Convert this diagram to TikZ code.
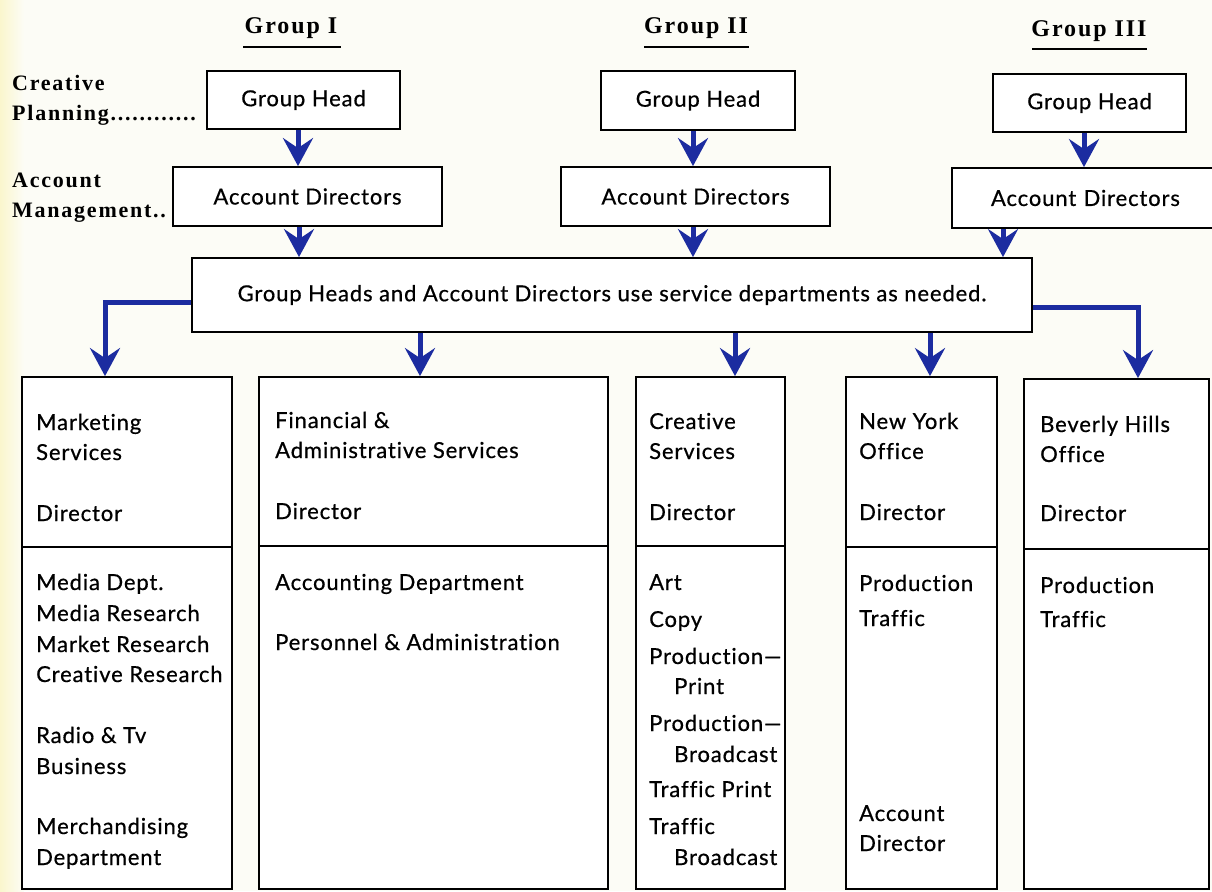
\documentclass[tikz,border=0pt]{standalone}
\usepackage{fontspec}
\setmainfont{Lato}[LetterSpace=4,FakeBold=0.6,Ligatures=CommonOff]
\newfontfamily\serifb{Liberation Serif}[LetterSpace=8]
\usetikzlibrary{arrows.meta}
\definecolor{arrowblue}{RGB}{28,44,160}
\definecolor{bgcol}{RGB}{252,252,246}
\definecolor{edgeyel}{RGB}{250,246,205}
\begin{document}
\begin{tikzpicture}[x=1pt,y=-1pt,
  box/.style={draw=black,line width=1.8pt,fill=white,inner sep=0pt,font=\fontsize{22}{26}\selectfont},
  txt/.style={anchor=base west,inner sep=0pt,font=\fontsize{22}{26}\selectfont},
  lbl/.style={anchor=base west,inner sep=0pt,font=\serifb\bfseries\fontsize{22}{26}\selectfont},
  grp/.style={anchor=base,inner sep=0pt,font=\serifb\bfseries\fontsize{24}{28}\selectfont},
  arr/.style={draw=arrowblue,line width=5pt,-{Stealth[length=28pt,width=30pt,inset=10pt,fill=arrowblue]}},
  elbow/.style={draw=arrowblue,line width=5pt}]
\useasboundingbox (0,0) rectangle (1212,891);
\fill[bgcol] (0,0) rectangle (1212,891);
\shade[left color=edgeyel,right color=bgcol] (0,0) rectangle (24,891);

% group titles
\node[grp] (g1) at (291,34) {Group I};
\node[grp] (g2) at (696,34) {Group II};
\node[grp] (g3) at (1089,37) {Group III};
\draw[line width=2pt] (243,47) -- (341,47);
\draw[line width=2pt] (644,47) -- (749,47);
\draw[line width=2pt] (1032,49) -- (1147,49);

% left labels
\node[lbl] (l1) at (12,90) {Creative};
\node[lbl] (l2) at (12,120) {Planning............};
\node[lbl] (l3) at (12,187) {Account};
\node[lbl] (l4) at (12,217) {Management..};

% top boxes
\node[box,minimum width=193,minimum height=58] (gh1) at (303.5,100) {Group Head};
\node[box,minimum width=194,minimum height=59] (gh2) at (698,100.5) {Group Head};
\node[box,minimum width=193,minimum height=58] (gh3) at (1089.5,103) {Group Head};
\node[box,minimum width=269,minimum height=59] (ad1) at (307.5,196.5) {Account Directors};
\node[box,minimum width=269,minimum height=59] (ad2) at (695.5,196.5) {Account Directors};
\node[box,minimum width=272,minimum height=60,text width=272,align=left] (ad3) at (1088,198) {\hspace{39pt}Account Directors};
\node[box,minimum width=840,minimum height=74] (big) at (612,295) {Group Heads and Account Directors use service departments as needed.};

% bottom boxes
\node[box,minimum width=210,minimum height=512] (b1) at (127,633) {};
\node[box,minimum width=349,minimum height=512] (b2) at (433.5,633) {};
\node[box,minimum width=149,minimum height=512] (b3) at (710.5,633) {};
\node[box,minimum width=151,minimum height=512] (b4) at (921.5,633) {};
\node[box,minimum width=185,minimum height=510] (b5) at (1116.5,634) {};
\draw[line width=1.8pt] (b1.west |- 0,547) -- (b1.east |- 0,547);
\draw[line width=1.8pt] (b2.west |- 0,546) -- (b2.east |- 0,546);
\draw[line width=1.8pt] (b3.west |- 0,546) -- (b3.east |- 0,546);
\draw[line width=1.8pt] (b4.west |- 0,547) -- (b4.east |- 0,547);
\draw[line width=1.8pt] (b5.west |- 0,549) -- (b5.east |- 0,549);

% arrows
\draw[arr] (gh1.south -| 298,0) -- (ad1.north -| 298,0);
\draw[arr] (gh2.south -| 693,0) -- (ad2.north -| 693,0);
\draw[arr] (gh3.south -| 1084,0) -- (ad3.north -| 1084,0);
\draw[arr] (ad1.south -| 299,0) -- (big.north -| 299,0);
\draw[arr] (ad2.south -| 693,0) -- (big.north -| 693,0);
\draw[arr] (ad3.south -| 1003,0) -- (big.north -| 1003,0);
\draw[arr] (big.south -| 420,0) -- (b2.north -| 420,0);
\draw[arr] (big.south -| 735,0) -- (b3.north -| 735,0);
\draw[arr] (big.south -| 930,0) -- (b4.north -| 930,0);
\coordinate (lc) at (105,302);
\coordinate (rc) at (1138,307);
\draw[elbow] (big.west |- lc) -- (lc) -- ++(0,20);
\draw[arr] (lc) -- (b1.north -| lc);
\draw[elbow] (big.east |- rc) -- (rc) -- ++(0,20);
\draw[arr] (rc) -- (b5.north -| rc);

% box 1 text
\node[txt] (t1a) at (36,430) {Marketing};
\node[txt] (t1b) at (36,460) {Services};
\node[txt] (t1c) at (36,521) {Director};
\node[txt] (t1d) at (36,590) {Media Dept.};
\node[txt] (t1e) at (36,621) {Media Research};
\node[txt] (t1f) at (36,652) {Market Research};
\node[txt] (t1g) at (36,682) {Creative Research};
\node[txt] (t1h) at (36,743) {Radio \& Tv};
\node[txt] (t1i) at (36,774) {Business};
\node[txt] (t1j) at (36,834) {Merchandising};
\node[txt] (t1k) at (36,865) {Department};
% box 2 text
\node[txt] (t2a) at (275,428) {Financial \&};
\node[txt] (t2b) at (275,458) {Administrative Services};
\node[txt] (t2c) at (275,519) {Director};
\node[txt] (t2d) at (275,590) {Accounting Department};
\node[txt] (t2e) at (275,650) {Personnel \& Administration};
% box 3 text
\node[txt] (t3a) at (649,429) {Creative};
\node[txt] (t3b) at (649,459) {Services};
\node[txt] (t3c) at (649,520) {Director};
\node[txt] (t3d) at (649,590) {Art};
\node[txt] (t3e) at (649,627) {Copy};
\node[txt] (t3f) at (649,664) {Production—};
\node[txt] (t3g) at (674,694) {Print};
\node[txt] (t3h) at (649,731) {Production—};
\node[txt] (t3i) at (674,762) {Broadcast};
\node[txt] (t3j) at (649,797) {Traffic Print};
\node[txt] (t3k) at (649,834) {Traffic};
\node[txt] (t3l) at (674,865) {Broadcast};
% box 4 text
\node[txt] (t4a) at (859,429) {New York};
\node[txt] (t4b) at (859,459) {Office};
\node[txt] (t4c) at (859,520) {Director};
\node[txt] (t4d) at (859,591) {Production};
\node[txt] (t4e) at (859,626) {Traffic};
\node[txt] (t4f) at (859,821) {Account};
\node[txt] (t4g) at (859,851) {Director};
% box 5 text
\node[txt] (t5a) at (1040,432) {Beverly Hills};
\node[txt] (t5b) at (1040,462) {Office};
\node[txt] (t5c) at (1040,521) {Director};
\node[txt] (t5d) at (1040,593) {Production};
\node[txt] (t5e) at (1040,627) {Traffic};
\end{tikzpicture}
\end{document}
